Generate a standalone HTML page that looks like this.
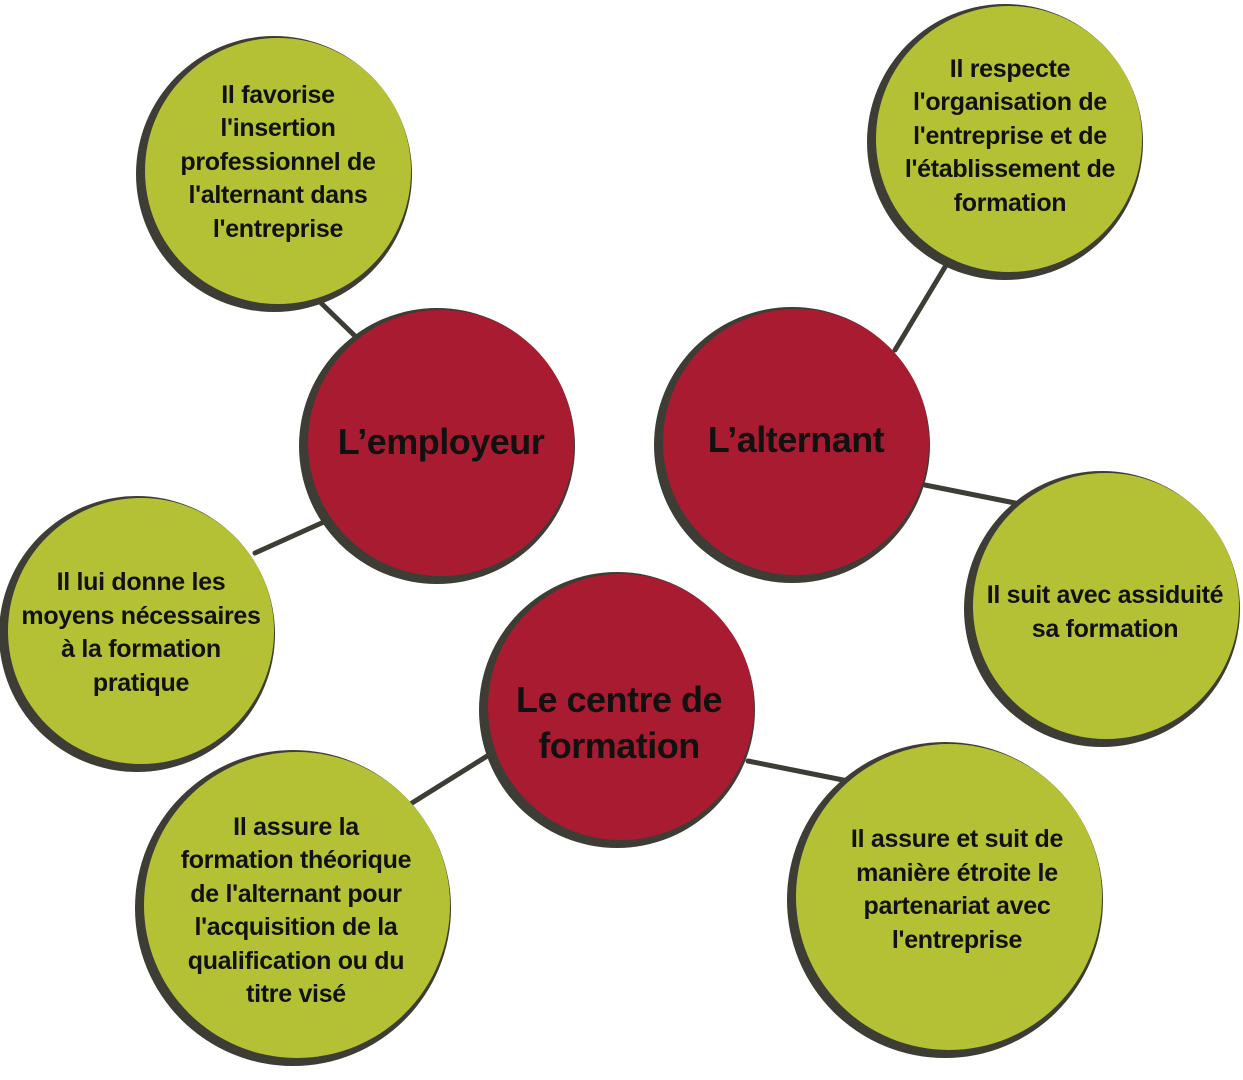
<!DOCTYPE html>
<html><head><meta charset="utf-8"><style>
html,body{margin:0;padding:0;background:#fff;}
svg{display:block}
text{font-family:"Liberation Sans",sans-serif;font-weight:bold;fill:#111;text-anchor:middle;}
.g{font-size:25px;letter-spacing:-0.3px}
.r{font-size:36px;letter-spacing:-0.5px}
</style></head><body>
<svg width="1243" height="1080" viewBox="0 0 1243 1080" xmlns="http://www.w3.org/2000/svg">
<g stroke="#3d3d35" stroke-width="5" stroke-linecap="round">
<line x1="320" y1="302" x2="356" y2="337"/>
<line x1="255" y1="553" x2="326" y2="521"/>
<line x1="895" y1="350" x2="948" y2="262"/>
<line x1="925" y1="485" x2="1015" y2="503"/>
<line x1="412" y1="803" x2="492" y2="753"/>
<line x1="748" y1="761" x2="848" y2="781"/>
</g>
<g fill="#3d3d35">
<circle cx="274" cy="174" r="138"/>
<circle cx="1005" cy="142" r="138"/>
<circle cx="137" cy="634" r="138"/>
<circle cx="1102" cy="609" r="138"/>
<circle cx="293" cy="908" r="158"/>
<circle cx="945" cy="900" r="158"/>
<circle cx="437" cy="446" r="138"/>
<circle cx="792" cy="445" r="138"/>
<circle cx="617" cy="710" r="138"/>
</g>
<g fill="#b5c135">
<circle cx="278" cy="171" r="133"/>
<circle cx="1009" cy="139" r="133"/>
<circle cx="141" cy="631" r="133"/>
<circle cx="1106" cy="606" r="133"/>
<circle cx="297" cy="905" r="153"/>
<circle cx="949" cy="897" r="153"/>
</g>
<g fill="#a91b31">
<circle cx="441" cy="443" r="133"/>
<circle cx="796" cy="442" r="133"/>
<circle cx="621" cy="707" r="133"/>
</g>
<text class="r" x="441" y="454">L’employeur</text>
<text class="r" x="796" y="452">L’alternant</text>
<text class="r" x="619" y="712">Le centre de</text>
<text class="r" x="619" y="758">formation</text>
<g class="g">
<text x="278" y="103">Il favorise</text>
<text x="278" y="136">l'insertion</text>
<text x="278" y="170">professionnel de</text>
<text x="278" y="203">l'alternant dans</text>
<text x="278" y="237">l'entreprise</text>
<text x="1010" y="77">Il respecte</text>
<text x="1010" y="110">l'organisation de</text>
<text x="1010" y="144">l'entreprise et de</text>
<text x="1010" y="177">l'établissement de</text>
<text x="1010" y="211">formation</text>
<text x="141" y="590">Il lui donne les</text>
<text x="141" y="624">moyens nécessaires</text>
<text x="141" y="657">à la formation</text>
<text x="141" y="691">pratique</text>
<text x="1105" y="603">Il suit avec assiduité</text>
<text x="1105" y="637">sa formation</text>
<text x="296" y="835">Il assure la</text>
<text x="296" y="868">formation théorique</text>
<text x="296" y="902">de l'alternant pour</text>
<text x="296" y="935">l'acquisition de la</text>
<text x="296" y="969">qualification ou du</text>
<text x="296" y="1002">titre visé</text>
<text x="957" y="847">Il assure et suit de</text>
<text x="957" y="881">manière étroite le</text>
<text x="957" y="914">partenariat avec</text>
<text x="957" y="948">l'entreprise</text>
</g>
</svg>
</body></html>
